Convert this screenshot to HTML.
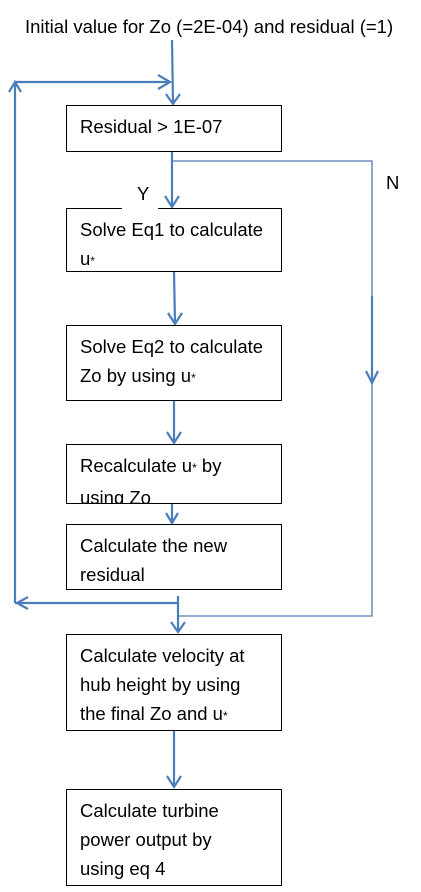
<!DOCTYPE html>
<html><head><style>
body{margin:0;background:#fff;width:421px;height:892px;overflow:hidden;position:relative;font-family:"Liberation Sans",sans-serif;}
.b{position:absolute;left:66px;width:216px;border:1.5px solid #000;box-sizing:border-box;background:#fff;font-size:18.5px;line-height:29px;padding:6px 0 0 13px;color:#000;white-space:nowrap;}
.t{position:absolute;font-size:18.5px;color:#000;white-space:nowrap;}
svg{position:absolute;left:0;top:0}
</style></head><body>
<svg width="421" height="892" fill="none" stroke="#4a7ebb">
<g stroke-width="2.2">
<line x1="172" y1="40" x2="173" y2="104"/><polyline points="166,94 173,104 180,94"/>
<line x1="15" y1="82" x2="15" y2="603"/><polyline points="9,92 15,82 21,92"/>
<line x1="15" y1="82" x2="170" y2="82"/><polyline points="158,75 170,82 158,89"/>
<line x1="172" y1="151" x2="172" y2="207"/><polyline points="165,196 172,207 179,196"/>
<line x1="174" y1="271" x2="175" y2="324"/><polyline points="168,313 175,324 182,313"/>
<line x1="174" y1="400" x2="174" y2="443"/><polyline points="167,432 174,443 181,432"/>
<line x1="172" y1="503" x2="172" y2="523"/><polyline points="166,513 172,523 178,513"/>
<line x1="178" y1="596" x2="178" y2="632"/><polyline points="171,622 178,632 185,622"/>
<line x1="178" y1="603" x2="15" y2="603"/><polyline points="28,597 17,603 28,609"/>
<line x1="174" y1="730" x2="174" y2="787"/><polyline points="167,776 174,787 181,776"/>
<line x1="372" y1="296" x2="372" y2="383"/><polyline points="366,371 372,383 378,371"/>
</g>
<polyline stroke-width="1.3" points="172,161 372,161 372,616 178,616"/>
</svg>
<div class="t" style="left:25px;top:16px;">Initial value for Zo (=2E-04) and residual (=1)</div>
<div class="b" style="top:105px;height:47px;">Residual &gt; 1E-07</div>
<div class="b" style="top:208px;height:64px;">Solve Eq1 to calculate<br>u<span style="font-size:12px">*</span></div>
<div style="position:absolute;left:122px;top:206px;width:36px;height:4px;background:#fff"></div>
<div class="t" style="left:137px;top:183px;">Y</div>
<div class="t" style="left:386px;top:172px;">N</div>
<div class="b" style="top:325px;height:76px;">Solve Eq2 to calculate<br>Zo by using u<span style="font-size:12px">*</span></div>
<div class="b" style="top:444px;height:60px;overflow:hidden;">Recalculate u<span style="font-size:12px">*</span> by<br>using Zo</div>
<div class="b" style="top:524px;height:66px;">Calculate the new<br>residual</div>
<div class="b" style="top:634px;height:97px;">Calculate velocity at<br>hub height by using<br>the final Zo and u<span style="font-size:12px">*</span></div>
<div class="b" style="top:789px;height:97px;">Calculate turbine<br>power output by<br>using eq 4</div>
</body></html>
